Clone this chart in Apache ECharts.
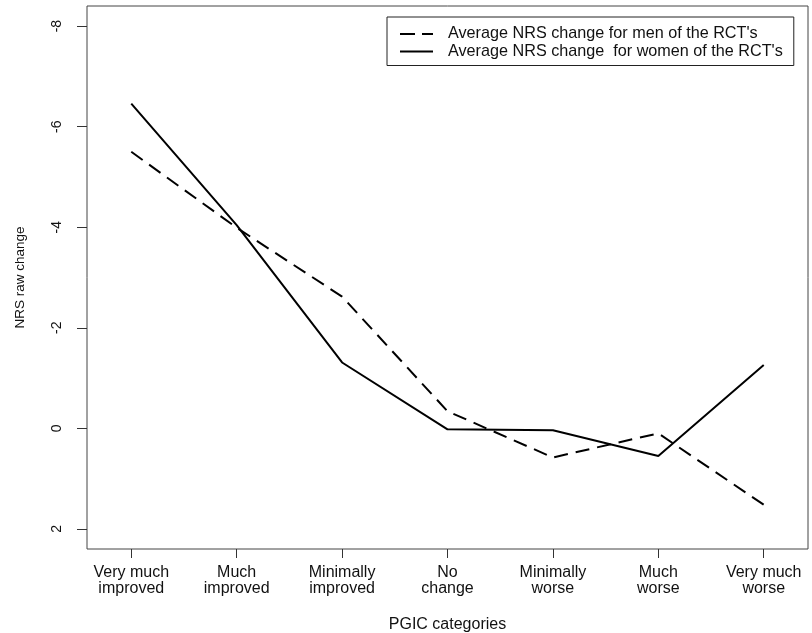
<!DOCTYPE html>
<html>
<head>
<meta charset="utf-8">
<script src="https://cdn.jsdelivr.net/npm/echarts@6/dist/echarts.min.js"></script>
<style>html,body{margin:0;padding:0;background:#fff}#c{width:812px;height:633px}</style>
</head>
<body>
<div id="c"></div>
<script>
const categories = ["Very much\nimproved", "Much\nimproved", "Minimally\nimproved", "No\nchange", "Minimally\nworse", "Much\nworse", "Very much\nworse"];
const menValues = [-5.50, -3.99, -2.62, -0.34, 0.58, 0.10, 1.52];
const womenValues = [-6.46, -4.04, -1.31, 0.02, 0.04, 0.55, -1.26];
const yTicks = [-8, -6, -4, -2, 0, 2];
const menName = "Average NRS change for men of the RCT's";
const womenName = "Average NRS change  for women of the RCT's";

const xPositions = categories.map((c, i) => i + 1);
const toPairs = vals => vals.map((v, i) => [xPositions[i], v]);
const font = "'Liberation Sans', Arial, sans-serif";

const chart = echarts.init(document.getElementById('c'), null, {renderer: 'canvas'});
chart.setOption({
  animation: false,
  backgroundColor: '#fff',
  textStyle: {fontFamily: font},
  grid: {left: 87, right: 4, top: 6, bottom: 84, outerBoundsMode: 'none', containLabel: false,
         show: true, borderColor: '#444', borderWidth: 1, backgroundColor: 'transparent'},
  legend: {
    left: 387, top: 17, orient: 'vertical',
    borderColor: '#222', borderWidth: 1,
    padding: [9, 11, 6, 13],
    itemGap: 1.5, itemWidth: 33, itemHeight: 2,
    textStyle: {fontFamily: font, fontSize: 16.2, lineHeight: 16, color: '#111', padding: [0, 0, 0, 10]},
    data: [
      {name: menName, icon: 'path://M0,0h15v2h-15z M22,0h11v2h-11z', itemStyle: {color: '#000'}},
      {name: womenName, icon: 'rect', itemStyle: {color: '#000'}}
    ]
  },
  xAxis: {
    type: 'value', min: 0.58, max: 7.42,
    splitLine: {show: false},
    axisLine: {show: false, onZero: false},
    axisTick: {show: true, length: 9, lineStyle: {color: '#333'}, customValues: xPositions},
    axisLabel: {
      customValues: xPositions,
      formatter: v => categories[Math.round(v) - 1] || '',
      fontSize: 16, color: '#111', lineHeight: 16, margin: 15.5, fontFamily: font
    },
    name: 'PGIC categories', nameLocation: 'middle', nameGap: 68,
    nameTextStyle: {fontSize: 16, color: '#111', fontFamily: font}
  },
  yAxis: {
    type: 'value', inverse: true, min: -8.4, max: 2.4,
    splitLine: {show: false},
    axisLine: {show: false, onZero: false},
    axisTick: {show: true, length: 10, lineStyle: {color: '#333'}, customValues: yTicks},
    axisLabel: {customValues: yTicks, rotate: 90, fontSize: 14, color: '#111', margin: 23, fontFamily: font},
    name: 'NRS raw change', nameLocation: 'middle', nameGap: 60,
    nameTextStyle: {fontSize: 13.5, color: '#111', fontFamily: font}
  },
  series: [
    {name: menName, type: 'line', data: toPairs(menValues), symbol: 'none',
     lineStyle: {color: '#000', width: 2, type: [14, 8]}, itemStyle: {color: '#000'}},
    {name: womenName, type: 'line', data: toPairs(womenValues), symbol: 'none',
     lineStyle: {color: '#000', width: 2, type: 'solid'}, itemStyle: {color: '#000'}}
  ]
});
</script>
</body>
</html>
